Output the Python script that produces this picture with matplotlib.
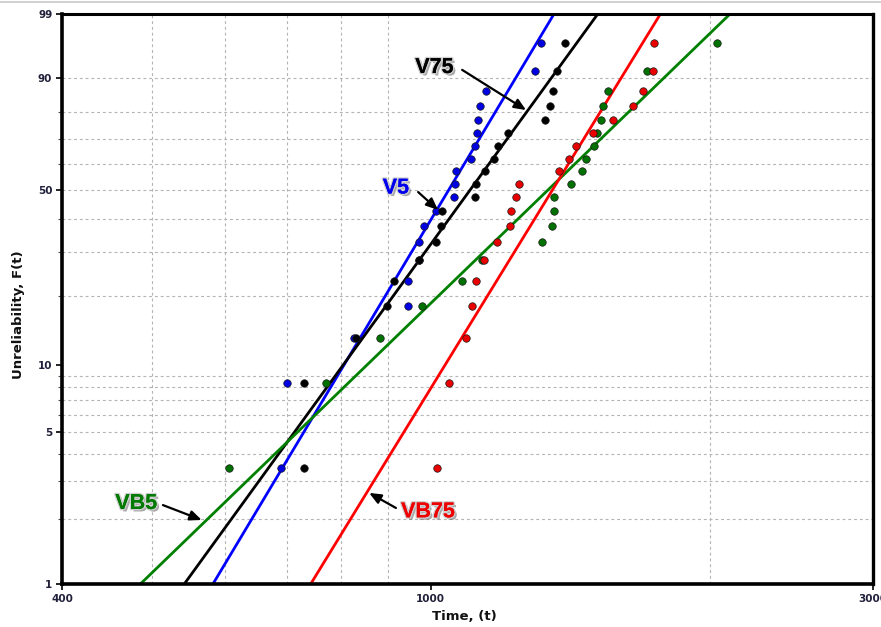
import numpy as np
import matplotlib
matplotlib.use('Agg')
import matplotlib.pyplot as plt
import matplotlib.patheffects as pe
from matplotlib.lines import Line2D
from matplotlib.ticker import FixedLocator, FixedFormatter, NullFormatter, NullLocator

# ---------------- data ----------------
# median-rank unreliability levels (%) of the 20 ordered failures
unreliability = [3.43, 8.33, 13.24, 18.14, 23.04, 27.94, 32.84, 37.75, 42.65, 47.55,
                 52.45, 57.35, 62.25, 67.16, 72.06, 76.96, 81.86, 86.76, 91.67, 96.57]

v5_times = [689, 699, 826, 945, 946, 971, 972, 983, 1013, 1060,
            1063, 1065, 1105, 1116, 1123, 1124, 1130, 1147, 1295, 1315]
v75_times = [729, 730, 830, 896, 913, 972, 1013, 1025, 1027, 1116,
             1119, 1144, 1171, 1183, 1211, 1328, 1345, 1354, 1369, 1396]
vb5_times = [606, 771, 881, 978, 1081, 1137, 1319, 1350, 1358, 1359,
             1416, 1455, 1469, 1500, 1510, 1526, 1533, 1552, 1710, 2034]
vb75_times = [1015, 1047, 1091, 1107, 1119, 1142, 1180, 1218, 1221, 1236,
              1244, 1375, 1410, 1434, 1498, 1571, 1653, 1695, 1738, 1742]

# fitted Weibull lines: time at F = 1 % and F = 99 %
fit_F = [1, 99]
v5_fit_t = [582, 1358]
v75_fit_t = [542, 1514]
vb5_fit_t = [486, 2103]
vb75_fit_t = [742, 1769]

series_names = ['V5', 'V75', 'VB5', 'VB75']

x_ticks = [400, 1000, 3000]
x_tick_labels = ['400', '1000', '3000']
y_ticks = [1, 5, 10, 50, 90, 99]
y_tick_labels = ['1', '5', '10', '50', '90', '99']
x_grid = [500, 600, 700, 800, 900, 2000]
y_grid = [2, 3, 4, 5, 6, 7, 8, 9, 20, 30, 40, 50, 60, 70, 80, 90]
y_minor = [2, 3, 4, 6, 7, 8, 9, 20, 30, 40, 60, 70, 80]

# ---------------- style ----------------
line_colors = {'V5': '#0000ff', 'V75': '#000000', 'VB5': '#008000', 'VB75': '#ff0000'}
point_colors = {'V5': '#0000e0', 'V75': '#000000', 'VB5': '#007000', 'VB75': '#e80000'}
tick_color = '#20203a'


def weib_fwd(F):
    F = np.clip(np.asarray(F, dtype=float), 1e-9, 100 - 1e-9)
    return np.log(-np.log(1.0 - F / 100.0))


def weib_inv(y):
    y = np.asarray(y, dtype=float)
    return 100.0 * (1.0 - np.exp(-np.exp(y)))


W, H = 881, 627
fig = plt.figure(figsize=(W / 100, H / 100), dpi=100)
L, R, T, B = 62, 873, 14, 584
ax = fig.add_axes([L / W, 1 - B / H, (R - L) / W, (B - T) / H])

ax.set_xscale('log')
ax.set_yscale('function', functions=(weib_fwd, weib_inv))
ax.set_xlim(400, 3000)
ax.set_ylim(1, 99)

# grid
for gx in x_grid:
    ax.axvline(gx, color='#b4b4b4', lw=0.8, ls=(0, (2.6, 2.6)), zorder=0)
for gy in y_grid:
    ax.axhline(gy, color='#b4b4b4', lw=0.8, ls=(0, (2.6, 2.6)), zorder=0)

times = {'V5': v5_times, 'V75': v75_times, 'VB5': vb5_times, 'VB75': vb75_times}
fits = {'V5': v5_fit_t, 'V75': v75_fit_t, 'VB5': vb5_fit_t, 'VB75': vb75_fit_t}

for name in series_names:
    ax.plot(fits[name], fit_F, color=line_colors[name], lw=2.0, zorder=3,
            solid_capstyle='butt')
for name in ['VB5', 'VB75', 'V5', 'V75']:
    ax.plot(times[name], unreliability, ls='none', marker='o', ms=5.4,
            mfc=point_colors[name], mec='#1a1a1a', mew=0.5, zorder=4)

# ticks
ax.xaxis.set_major_locator(FixedLocator(x_ticks))
ax.xaxis.set_major_formatter(FixedFormatter(x_tick_labels))
ax.xaxis.set_minor_locator(NullLocator())
ax.xaxis.set_minor_formatter(NullFormatter())
ax.yaxis.set_major_locator(FixedLocator(y_ticks))
ax.yaxis.set_major_formatter(FixedFormatter(y_tick_labels))
ax.yaxis.set_minor_locator(FixedLocator(y_minor))
ax.yaxis.set_minor_formatter(NullFormatter())

ax.tick_params(axis='both', which='major', direction='out', length=4, width=1.2,
               colors='black', labelcolor=tick_color, labelsize=7.5, pad=3)
ax.tick_params(axis='y', which='minor', direction='out', length=3, width=0.8, colors='#555555')
for lab in ax.get_xticklabels() + ax.get_yticklabels():
    lab.set_fontweight('bold')
    lab.set_family('DejaVu Sans')

for side, lw in [('left', 2.6), ('bottom', 2.6), ('top', 2.2), ('right', 2.4)]:
    ax.spines[side].set_linewidth(lw)
    ax.spines[side].set_color('black')
    ax.spines[side].set_zorder(6)

# axis labels
fig.text(464 / W, 1 - 616 / H, 'Time, (t)', ha='center', va='center',
         fontsize=9.5, fontweight='bold', color='#111111')
fig.text(18.5 / W, 1 - 315 / H, 'Unreliability, F(t)', ha='center', va='center',
         rotation=90, fontsize=9.5, fontweight='bold', color='#111111')

# top light border line of the picture
fig.add_artist(Line2D([0, 1], [1 - 1.5 / H, 1 - 1.5 / H], color='#c8c8c8', lw=1.2))

# annotations (label, text position, arrow tail, arrow head) in data coords
ann_labels = ['V75', 'V5', 'VB5', 'VB75']
ann_text_xy = [(1009, 92.5), (917, 50.8), (481, 2.36), (993, 2.16)]
ann_tail_xy = [(1081, 92.0), (969, 49.3), (514, 2.32), (917, 2.25)]
ann_head_xy = [(1267, 80.6), (1018, 42.9), (566, 1.98), (858, 2.64)]
ann_colors = ['#000000', '#0000ee', '#007a00', '#ee0000']

shadow = [pe.SimplePatchShadow(offset=(1.8, -1.8), shadow_rgbFace='#707070', alpha=0.6),
          pe.withStroke(linewidth=2.0, foreground='#cfcfcf'), pe.Normal()]
for lab, txy, tail, head, col in zip(ann_labels, ann_text_xy, ann_tail_xy, ann_head_xy, ann_colors):
    ax.text(txy[0], txy[1], lab, ha='center', va='center', fontsize=15.5,
            fontweight='bold', family='Liberation Sans', color=col,
            path_effects=shadow, zorder=7)
    ax.annotate('', xy=head, xytext=tail,
                arrowprops=dict(arrowstyle='-|>,head_length=0.7,head_width=0.3',
                                color='black', lw=1.6, shrinkA=0, shrinkB=0),
                zorder=7)

fig.savefig('out.png', dpi=100)
